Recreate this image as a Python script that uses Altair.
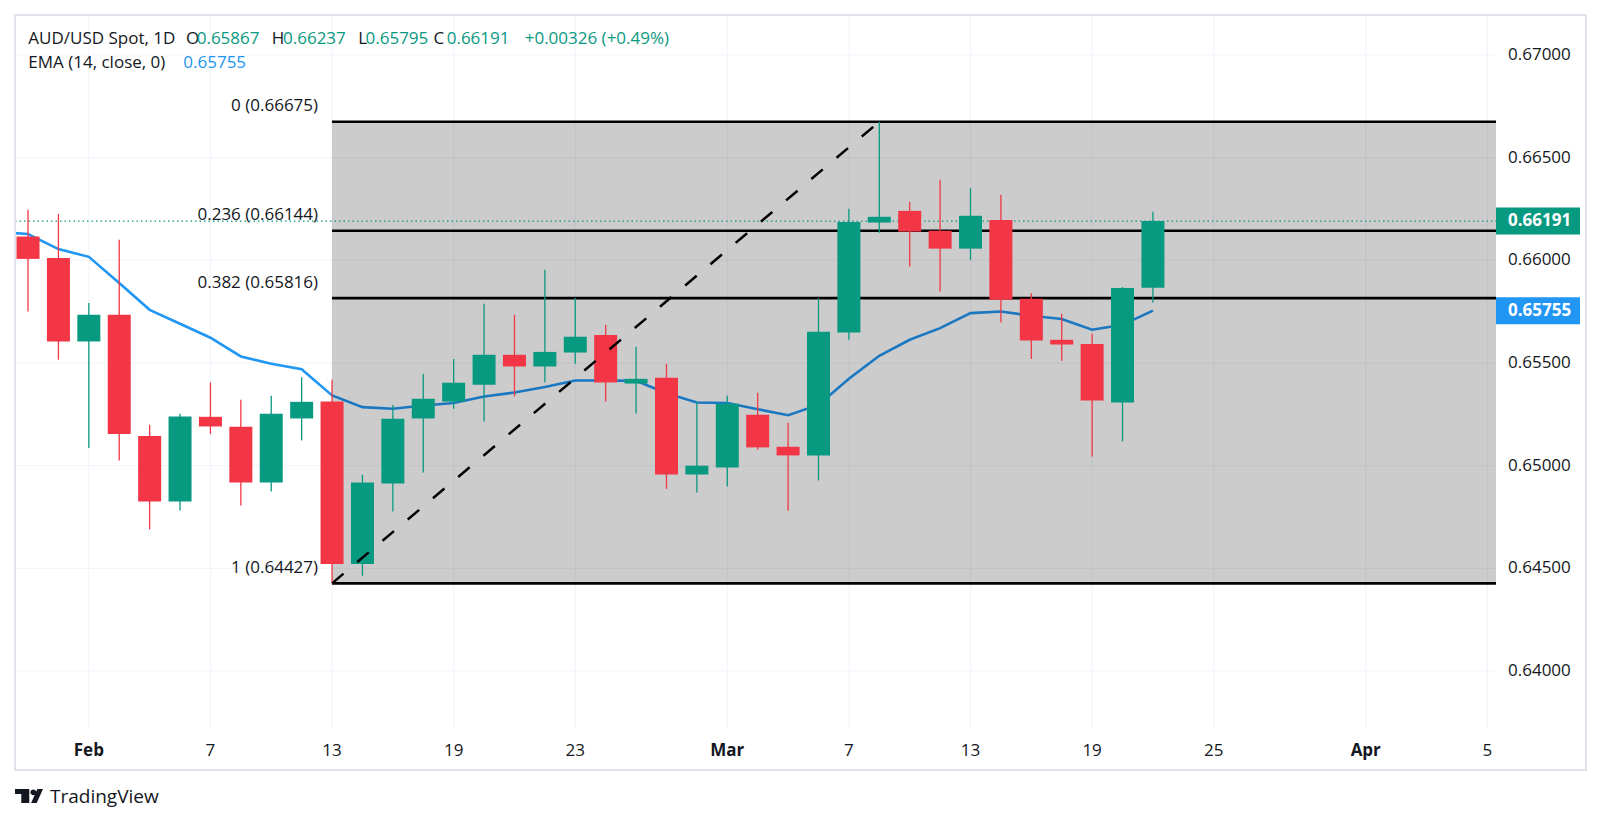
import altair as alt
import pandas as pd

# ---------------- data ----------------
dates = ["Jan 30", "Jan 31", "Feb 1", "Feb 2", "Feb 5", "Feb 6", "Feb 7", "Feb 8", "Feb 9",
         "Feb 12", "Feb 13", "Feb 14", "Feb 15", "Feb 16", "Feb 19", "Feb 20", "Feb 21",
         "Feb 22", "Feb 23", "Feb 26", "Feb 27", "Feb 28", "Feb 29", "Mar 1", "Mar 4",
         "Mar 5", "Mar 6", "Mar 7", "Mar 8", "Mar 11", "Mar 12", "Mar 13", "Mar 14",
         "Mar 15", "Mar 18", "Mar 19", "Mar 20", "Mar 21"]
bar_index = list(range(len(dates)))

opens = [0.66116, 0.66012, 0.65605, 0.65735, 0.65145, 0.64826, 0.65238, 0.65189, 0.64918,
         0.65230, 0.65312, 0.64521, 0.64913, 0.65230, 0.65312, 0.65394, 0.65540, 0.65483,
         0.65551, 0.65637, 0.65400, 0.65428, 0.64957, 0.64991, 0.65248, 0.65092, 0.65050,
         0.65648, 0.66184, 0.66241, 0.66144, 0.66057, 0.66197, 0.65813, 0.65613, 0.65593,
         0.65308, 0.65867]
highs = [0.66246, 0.66226, 0.65792, 0.66100, 0.65199, 0.65253, 0.65405, 0.65321, 0.65340,
         0.65431, 0.65418, 0.64956, 0.65296, 0.65447, 0.65520, 0.65788, 0.65735, 0.65954,
         0.65816, 0.65686, 0.65579, 0.65496, 0.65313, 0.65340, 0.65355, 0.65209, 0.65816,
         0.66251, 0.66675, 0.66285, 0.66392, 0.66353, 0.66319, 0.65840, 0.65740, 0.65642,
         0.65870, 0.66237]
lows = [0.65751, 0.65516, 0.65086, 0.65025, 0.64690, 0.64782, 0.65155, 0.64806, 0.64874,
        0.65123, 0.64427, 0.64464, 0.64777, 0.64967, 0.65277, 0.65215, 0.65337, 0.65405,
        0.65496, 0.65313, 0.65254, 0.64887, 0.64869, 0.64899, 0.65077, 0.64780, 0.64928,
        0.65613, 0.66134, 0.65970, 0.65848, 0.66002, 0.65697, 0.65520, 0.65511, 0.65045,
        0.65118, 0.65795]
closes = [0.66007, 0.65605, 0.65735, 0.65154, 0.64826, 0.65239, 0.65191, 0.64918, 0.65253,
          0.65311, 0.64521, 0.64918, 0.65228, 0.65326, 0.65404, 0.65540, 0.65483, 0.65554,
          0.65628, 0.65405, 0.65423, 0.64957, 0.65000, 0.65301, 0.65089, 0.65050, 0.65652,
          0.66187, 0.66212, 0.66140, 0.66057, 0.66217, 0.65808, 0.65610, 0.65590, 0.65317,
          0.65865, 0.66191]

ema_index = list(range(-1, len(dates)))
ema_values = [0.66138, 0.66128, 0.66055, 0.66017, 0.65890, 0.65759, 0.65691, 0.65623, 0.65532,
              0.65496, 0.65470, 0.65342, 0.65285, 0.65277, 0.65293, 0.65305, 0.65337, 0.65356,
              0.65383, 0.65415, 0.65415, 0.65413, 0.65353, 0.65308, 0.65305, 0.65275, 0.65246,
              0.65296, 0.65423, 0.65535, 0.65613, 0.65670, 0.65743, 0.65751, 0.65730, 0.65714,
              0.65662, 0.65686, 0.65755]

tick_index = [2, 6, 10, 14, 18, 23, 27, 31, 35, 39, 44, 48]
tick_labels = ["Feb", "7", "13", "19", "23", "Mar", "7", "13", "19", "25", "Apr", "5"]
tick_is_month = [True, False, False, False, False, True, False, False, False, False, True, False]

price_ticks = [0.640, 0.645, 0.650, 0.655, 0.660, 0.665, 0.670]

fib_ratios = ["0", "0.236", "0.382", "1"]
fib_prices = [0.66675, 0.66144, 0.65816, 0.64427]
fib_from_bar = 10   # Feb 13 low
fib_to_bar = 28     # Mar 8 high

# ---------------- layout / style ----------------
W, H = 1481, 713
X_DOMAIN = [-0.264, 48.12]
Y_DOMAIN = [0.637225, 0.671948]
GREEN, RED, BLUE, INK = "#089981", "#F23645", "#2196F3", "#131722"
GRID = "#f0f3fa"
FONT = "Open Sans"
FS = 17

xs = alt.Scale(domain=X_DOMAIN, nice=False, zero=False)
ys = alt.Scale(domain=Y_DOMAIN, nice=False, zero=False)

candles = pd.DataFrame({"i": bar_index, "date": dates, "open": opens, "high": highs,
                        "low": lows, "close": closes})
ema_df = pd.DataFrame({"i": ema_index, "ema": ema_values})
fib_df = pd.DataFrame({"start": [fib_from_bar] * len(fib_prices), "price": fib_prices,
                       "label": [f"{r} ({p:.5f})" for r, p in zip(fib_ratios, fib_prices)]})
fib_box = pd.DataFrame({"start": [fib_from_bar], "top": [fib_prices[0]], "bottom": [fib_prices[-1]]})
diag_df = pd.DataFrame({"i": [fib_from_bar, fib_to_bar], "price": [fib_prices[-1], fib_prices[0]]})
ticks_df = pd.DataFrame({"i": tick_index, "label": tick_labels, "month": tick_is_month})
yt_df = pd.DataFrame({"price": price_ticks, "text": [f"{p:.5f}" for p in price_ticks]})

last_close = closes[-1]
last_ema = ema_values[-1]
tags_df = pd.DataFrame({"price": [last_close, last_ema],
                        "text": [f"{last_close:.5f}", f"{last_ema:.5f}"],
                        "col": [GREEN, BLUE]})

up_down = alt.condition("datum.close >= datum.open", alt.value(GREEN), alt.value(RED))
X = lambda f: alt.X(f, scale=xs, axis=None)
Y = lambda f: alt.Y(f, scale=ys, axis=None)

# grid (drawn manually)
hgrid = alt.Chart(yt_df).mark_rule(color=GRID, strokeWidth=1).encode(
    x=alt.value(0), x2=alt.value(W), y=Y("price:Q"))
vgrid = alt.Chart(ticks_df).mark_rule(color=GRID, strokeWidth=1).encode(
    x=X("i:Q"), y=alt.value(0), y2=alt.value(H))

# EMA (drawn under the fib shading)
ema_line = alt.Chart(ema_df).mark_line(color=BLUE, strokeWidth=2.6, clip=True).encode(
    x=X("i:Q"), y=Y("ema:Q"))

fib_shade = alt.Chart(fib_box).mark_rect(color="black", opacity=0.2).encode(
    x=X("start:Q"), x2=alt.value(W), y=Y("top:Q"), y2="bottom:Q")

fib_lines = alt.Chart(fib_df).mark_rule(color="black", strokeWidth=2.7).encode(
    x=X("start:Q"), x2=alt.value(W), y=Y("price:Q"))

fib_labels = alt.Chart(fib_df).mark_text(align="right", baseline="middle", dx=-14, dy=-15.5,
                                         fontSize=FS, font=FONT, color=INK).encode(
    x=X("start:Q"), y=Y("price:Q"), text="label:N")

last_line = alt.Chart(pd.DataFrame({"price": [last_close]})).mark_rule(
    color=GREEN, strokeWidth=1.3, strokeDash=[1.5, 3]).encode(
    x=alt.value(0), x2=alt.value(W), y=Y("price:Q"))

wicks = alt.Chart(candles).mark_rule(strokeWidth=1.3, clip=True).encode(
    x=X("i:Q"), y=Y("low:Q"), y2="high:Q", color=up_down)

bodies = alt.Chart(candles).mark_bar(size=23, clip=True).encode(
    x=X("i:Q"), y=Y("open:Q"), y2="close:Q", color=up_down)

diag = alt.Chart(diag_df).mark_line(color="black", strokeWidth=2.5, strokeDash=[15, 18]).encode(
    x=X("i:Q"), y=Y("price:Q"))

ylabels = alt.Chart(yt_df).mark_text(align="left", baseline="middle", fontSize=FS,
                                     font=FONT, color=INK).encode(
    x=alt.value(W + 12), y=Y("price:Q"), text="text:N")

tag_boxes = alt.Chart(tags_df).mark_rule(strokeWidth=27).encode(
    x=alt.value(W), x2=alt.value(W + 84), y=Y("price:Q"),
    color=alt.Color("col:N", scale=None))
tag_text = alt.Chart(tags_df).mark_text(align="left", baseline="middle", fontSize=FS,
                                        font=FONT, fontWeight="bold", color="white").encode(
    x=alt.value(W + 12), y=Y("price:Q"), text="text:N")

xlab_month = alt.Chart(ticks_df).transform_filter("datum.month").mark_text(
    fontSize=FS, font=FONT, fontWeight="bold", color=INK, baseline="middle").encode(
    x=X("i:Q"), y=alt.value(735.7), text="label:N")
xlab_day = alt.Chart(ticks_df).transform_filter("!datum.month").mark_text(
    fontSize=FS, font=FONT, color=INK, baseline="middle").encode(
    x=X("i:Q"), y=alt.value(735.7), text="label:N")

one = pd.DataFrame({"k": [0]})


def label(text, x, y, color=INK, size=FS, weight="normal"):
    return alt.Chart(one).mark_text(text=text, align="left", baseline="middle", fontSize=size,
                                    font=FONT, fontWeight=weight, color=color).encode(
        x=alt.value(x), y=alt.value(y))


chg = closes[-1] - closes[-2]
pct = chg / closes[-2] * 100
header = [
    label("AUD/USD Spot, 1D", 13.3, 24),
    label("O", 171, 24), label(f"{opens[-1]:.5f}", 181.7, 24, GREEN),
    label("H", 256.7, 24), label(f"{highs[-1]:.5f}", 268, 24, GREEN),
    label("L", 343.3, 24), label(f"{lows[-1]:.5f}", 350.5, 24, GREEN),
    label("C", 418.6, 24), label(f"{closes[-1]:.5f}", 431.7, 24, GREEN),
    label(f"{chg:+.5f} ({pct:+.2f}%)", 509.7, 24, GREEN),
    label("EMA (14, close, 0)", 13.3, 48.3),
    label(f"{last_ema:.5f}", 168.3, 48.3, BLUE),
]

frame = alt.Chart(one).mark_rect(fillOpacity=0, stroke="#e0e3eb", strokeWidth=2).encode(
    x=alt.value(0), x2=alt.value(1571), y=alt.value(0), y2=alt.value(755))

logo_path = ("M-1,-0.5 L0.02,-0.5 L0.02,0.5 L-0.55,0.5 L-0.55,-0.14 L-1,-0.14 Z "
             "M0.1,-0.26 A0.21,0.21 0 1,1 0.52,-0.26 A0.21,0.21 0 1,1 0.1,-0.26 Z "
             "M0.6,-0.5 L1,-0.5 L0.55,0.5 L0.15,0.5 Z")
logo = alt.Chart(one).mark_point(shape=logo_path, size=784, filled=True, opacity=1,
                                 color=INK, strokeWidth=0).encode(
    x=alt.value(14), y=alt.value(781))
logo_text = label("TradingView", 35, 782, INK, 19)

chart = alt.layer(
    hgrid, vgrid, ema_line, fib_shade, fib_lines, fib_labels, last_line, wicks, bodies, diag,
    ylabels, tag_boxes, tag_text, xlab_month, xlab_day, frame, logo, logo_text, *header
).properties(
    width=W, height=H,
    autosize=alt.AutoSizeParams(type="none"),
    padding={"left": 7, "top": 7, "right": 92, "bottom": 92},
    background="white",
).configure_view(stroke=None)

chart.save("out.html", embed_options={"renderer": "svg", "actions": False})
